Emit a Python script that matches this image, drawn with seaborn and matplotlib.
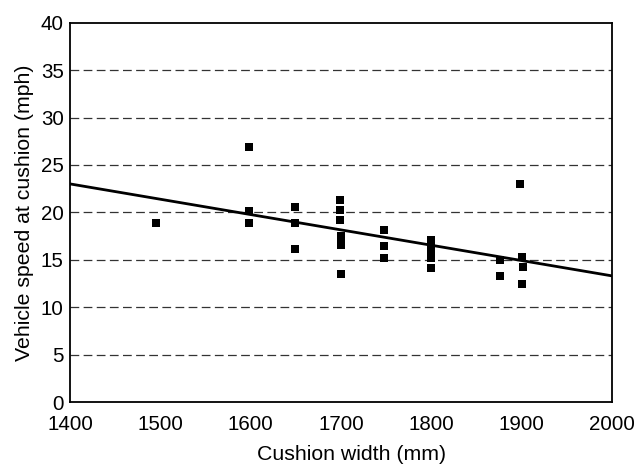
import matplotlib
matplotlib.use("Agg")
import matplotlib.pyplot as plt
import seaborn as sns
import pandas as pd

cushion_width = [1495, 1598, 1598, 1598, 1649, 1649, 1649,
                 1699, 1699, 1699, 1700, 1700, 1700, 1700,
                 1748, 1748, 1748,
                 1800, 1800, 1800, 1800, 1800,
                 1876, 1876, 1898, 1900, 1901, 1900]
vehicle_speed = [18.9, 26.9, 20.1, 18.9, 20.6, 18.9, 16.1,
                 21.3, 20.2, 19.2, 17.5, 17.1, 16.6, 13.5,
                 18.1, 16.5, 15.2,
                 17.1, 16.4, 15.9, 15.2, 14.1,
                 15.0, 13.3, 23.0, 15.3, 14.2, 12.4]
trend_x = [1400, 2000]
trend_y = [23.0, 13.3]
x_ticks = [1400, 1500, 1600, 1700, 1800, 1900, 2000]
y_ticks = [0, 5, 10, 15, 20, 25, 30, 35, 40]

sns.set_theme(style="white")
plt.rcParams['font.family'] = ['Liberation Sans', 'DejaVu Sans']

pts = pd.DataFrame({"w": cushion_width, "v": vehicle_speed})
trend = pd.DataFrame({"w": trend_x, "v": trend_y})

fig = plt.figure(figsize=(6.34, 4.66), dpi=100)
ax = fig.add_axes([70/634, 1 - 402/466, (612 - 70)/634, (402 - 22.7)/466])

for yv in y_ticks[1:-1]:
    ax.axhline(yv, color="#333333", lw=0.9, dashes=(7, 3.5), zorder=1)

sns.lineplot(data=trend, x="w", y="v", ax=ax, color="black", lw=2.0, zorder=3)
sns.scatterplot(data=pts, x="w", y="v", ax=ax, marker="s", s=30, color="black",
                edgecolor="black", linewidth=0, zorder=4)

fs_tick = 14.8
fs_label = 15.3
ax.set_xlim(1400, 2000)
ax.set_ylim(0, 40)
ax.set_xticks(x_ticks)
ax.set_yticks(y_ticks)
ax.tick_params(axis="x", length=0, labelsize=fs_tick, colors="black", pad=9)
ax.tick_params(axis="y", length=0, labelsize=fs_tick, colors="black", pad=4.5)
ax.set_xlabel("Cushion width (mm)", fontsize=fs_label, color="black", labelpad=8)
ax.xaxis.label.set_x(0.519)
ax.set_ylabel("Vehicle speed at cushion (mph)", fontsize=fs_label, color="black", labelpad=5)
for sp in ax.spines.values():
    sp.set_visible(True)
    sp.set_color("black")
    sp.set_linewidth(1.3)
ax.grid(False)

fig.savefig("out.png", dpi=100)
